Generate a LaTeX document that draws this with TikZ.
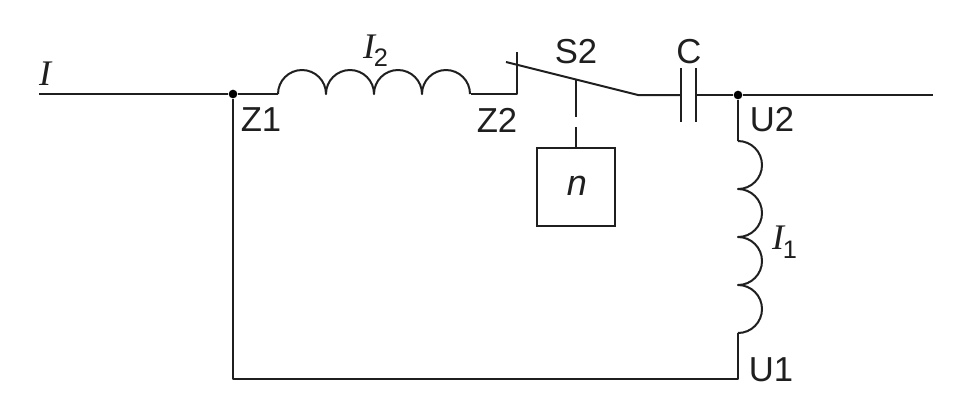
\documentclass[tikz,border=0pt]{standalone}
\usepackage{fontspec}
\setmainfont{Liberation Sans}
\newfontfamily\serifit{Liberation Serif}
\tikzset{
 x=0.75pt,y=-0.75pt,
 wire/.style={draw=black!88,line width=1.5pt,line join=round},
 lab/.style={font=\fontsize{26}{28}\selectfont,text=black!88,inner sep=0pt},
 mathlab/.style={font=\serifit\itshape\fontsize{27}{29}\selectfont,text=black!88,inner sep=0pt},
 sublab/.style={font=\fontsize{19}{21}\selectfont,text=black!88,inner sep=0pt},
 dotj/.style={circle,fill=black,inner sep=0pt,minimum size=6.5pt},
}
\begin{document}
\begin{tikzpicture}
\useasboundingbox (0,0) rectangle (961,405);
\coordinate (inL) at (39,94);
\node[dotj] (z1) at (233,94) {};
\coordinate (h0) at (278,94);
\coordinate (h4) at (471,94);
\coordinate (corner) at (517,94);
\coordinate (contactTop) at (517,52);
\coordinate (armL) at (506,62);
\coordinate (armR) at (638,95);
\coordinate (capL) at (681,95);
\coordinate (capR) at (696,95);
\node[dotj] (u2) at (738,95) {};
\coordinate (outR) at (933,95);
\coordinate (v0) at (738,141);
\coordinate (v4) at (738,333);
\coordinate (bR) at (738,379);
\coordinate (bL) at (233,379);
\node[draw=black!88,line width=1.5pt,minimum width=58pt,minimum height=58pt,inner sep=0pt] (n) at (576,187) {};
\node[font=\fontsize{27}{29}\selectfont\itshape,text=black!88,inner sep=0pt] (nlab) at (577,186) {n};
\coordinate (armM) at (576,80);
\coordinate (stemA) at (576,117);
\coordinate (stemB) at (576,127);
\draw[wire] (inL) -- (z1) -- (h0);
\draw[wire] (h0) arc[start angle=180,end angle=0,x radius=18pt,y radius=18pt]
  arc[start angle=180,end angle=0,x radius=18pt,y radius=18pt]
  arc[start angle=180,end angle=0,x radius=18pt,y radius=18pt]
  arc[start angle=180,end angle=0,x radius=18pt,y radius=18pt];
\draw[wire] (h4) -- (corner) -- (contactTop);
\draw[wire] (armL) -- (armR) -- (capL);
\draw[wire] (armM) -- (stemA);
\draw[wire] (stemB) -- (n.north);
\draw[wire] (capL |- 0,68) -- (capL |- 0,122);
\draw[wire] (capR |- 0,68) -- (capR |- 0,122);
\draw[wire] (capR) -- (u2) -- (outR);
\draw[wire] (u2) -- (v0);
\draw[wire] (v0) arc[start angle=90,end angle=-90,x radius=18pt,y radius=18pt]
  arc[start angle=90,end angle=-90,x radius=18pt,y radius=18pt]
  arc[start angle=90,end angle=-90,x radius=18pt,y radius=18pt]
  arc[start angle=90,end angle=-90,x radius=18pt,y radius=18pt];
\draw[wire] (v4) -- (bR) -- (bL) -- (z1);
\node[mathlab] (i0) at (45,74) {I};
\node[mathlab] (i2) at (369,47) {I};
\node[sublab] (s2) at (381,58) {2};
\node[mathlab] (i1) at (778,238) {I};
\node[sublab] (s1) at (790,250) {1};
\node[lab] (lz1) at (261,120) {Z1};
\node[lab] (lz2) at (497,120) {Z2};
\node[lab] (ls2) at (576,52) {S2};
\node[lab] (lc) at (689,52) {C};
\node[lab] (lu2) at (772,120) {U2};
\node[lab] (lu1) at (771,370) {U1};
\end{tikzpicture}
\end{document}
